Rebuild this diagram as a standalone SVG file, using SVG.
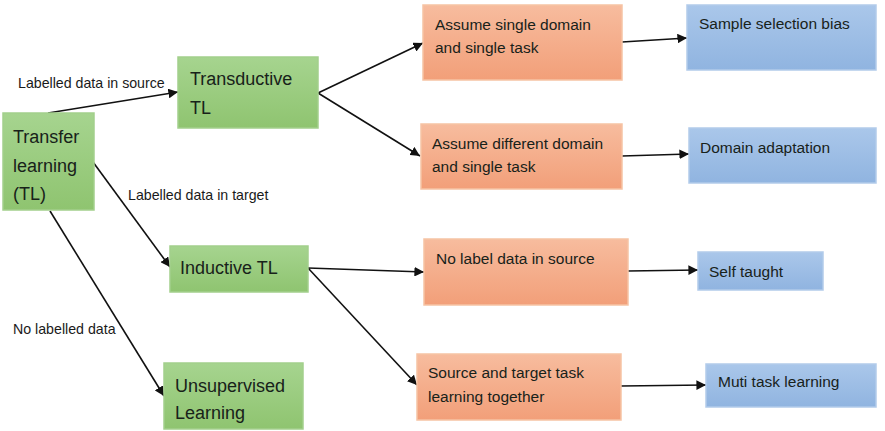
<svg xmlns="http://www.w3.org/2000/svg" width="885" height="431" viewBox="0 0 885 431">
<style>
text{font-family:"Liberation Sans",Arial,sans-serif;fill:#18221a}
.big{font-size:18px}
.mid{font-size:15.5px}
.lbl{font-size:14.2px;fill:#1a1a1a}
.g{fill:url(#gg);stroke:#a3cf8c;stroke-width:1.5}
.o{fill:url(#og);stroke:#f6c3a4;stroke-width:1.5}
.b{fill:url(#bg);stroke:#b2cbea;stroke-width:1.5}
.c line{stroke:#111;stroke-width:1.6;marker-end:url(#ah)}
</style>
<defs>
<linearGradient id="gg" x1="0" y1="0" x2="0" y2="1"><stop offset="0" stop-color="#a6d48f"/><stop offset="1" stop-color="#8fc470"/></linearGradient>
<linearGradient id="og" x1="0" y1="0" x2="0" y2="1"><stop offset="0" stop-color="#f7bc9e"/><stop offset="1" stop-color="#f29f79"/></linearGradient>
<linearGradient id="bg" x1="0" y1="0" x2="0" y2="1"><stop offset="0" stop-color="#aac7ea"/><stop offset="1" stop-color="#90b4e0"/></linearGradient>
<marker id="ah" viewBox="0 0 10 10" refX="10" refY="5" markerWidth="6" markerHeight="6" orient="auto" markerUnits="strokeWidth"><path d="M0,0 L10,5 L0,10 z" fill="#111"/></marker>
</defs>
<rect width="885" height="431" fill="#fff"/>
<g class="c" id="connectors">
<line x1="48" y1="113" x2="178" y2="92"/>
<line x1="93" y1="162" x2="170" y2="267"/>
<line x1="50" y1="211" x2="164" y2="396"/>
<line x1="318" y1="93" x2="423" y2="43"/>
<line x1="318" y1="93" x2="420" y2="156"/>
<line x1="622" y1="42" x2="687" y2="38"/>
<line x1="622" y1="156" x2="689" y2="154"/>
<line x1="308" y1="268" x2="424" y2="272"/>
<line x1="308" y1="268" x2="417" y2="385"/>
<line x1="628" y1="271" x2="698" y2="270"/>
<line x1="621" y1="386" x2="706" y2="385"/>
</g>
<g id="edge-labels">
<text class="lbl" x="18" y="88">Labelled data in source</text>
<text class="lbl" x="128" y="200">Labelled data in target</text>
<text class="lbl" x="13" y="334">No labelled data</text>
</g>
<g id="n-tl"><rect class="g" x="3" y="113" width="91" height="97"/><text class="big" x="13" y="143">Transfer</text><text class="big" x="13" y="172">learning</text><text class="big" x="13" y="200">(TL)</text></g>
<g id="n-transductive"><rect class="g" x="178" y="57" width="140" height="71"/><text class="big" x="190" y="85">Transductive</text><text class="big" x="190" y="114">TL</text></g>
<g id="n-inductive"><rect class="g" x="170" y="246" width="138" height="46"/><text class="big" x="180" y="274">Inductive TL</text></g>
<g id="n-unsupervised"><rect class="g" x="164" y="363" width="139" height="66"/><text class="big" x="175" y="392">Unsupervised</text><text class="big" x="175" y="419">Learning</text></g>
<g id="n-single"><rect class="o" x="423" y="5" width="199" height="75"/><text class="mid" x="435" y="30">Assume single domain</text><text class="mid" x="435" y="53">and single task</text></g>
<g id="n-different"><rect class="o" x="421" y="124" width="201" height="65"/><text class="mid" x="432" y="149">Assume different domain</text><text class="mid" x="432" y="172">and single task</text></g>
<g id="n-nolabel"><rect class="o" x="424" y="239" width="204" height="66"/><text class="mid" x="436" y="264">No label data in source</text></g>
<g id="n-source"><rect class="o" x="417" y="354" width="204" height="66"/><text class="mid" x="428" y="378">Source and target task</text><text class="mid" x="428" y="402">learning together</text></g>
<g id="n-sample"><rect class="b" x="687" y="5" width="189" height="65"/><text class="mid" x="699" y="29">Sample selection bias</text></g>
<g id="n-domain"><rect class="b" x="689" y="128" width="187" height="55"/><text class="mid" x="700" y="153">Domain adaptation</text></g>
<g id="n-self"><rect class="b" x="698" y="252" width="125" height="38"/><text class="mid" x="709" y="277">Self taught</text></g>
<g id="n-muti"><rect class="b" x="706" y="364" width="170" height="43"/><text class="mid" x="718" y="387">Muti task learning</text></g>
</svg>
